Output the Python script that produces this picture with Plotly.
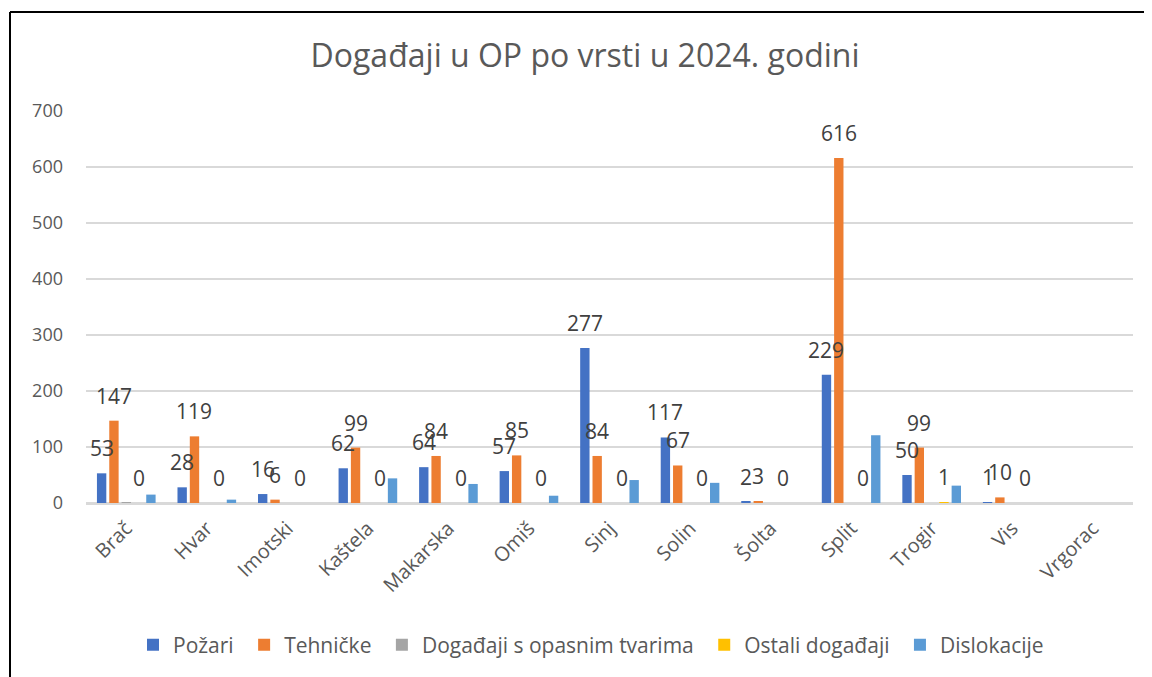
import plotly.graph_objects as go

categories = ["Brač", "Hvar", "Imotski", "Kaštela", "Makarska", "Omiš", "Sinj",
              "Solin", "Šolta", "Split", "Trogir", "Vis", "Vrgorac"]

series_names = ["Požari", "Tehničke", "Događaji s opasnim tvarima",
                "Ostali događaji", "Dislokacije"]

pozari = [53, 28, 16, 62, 64, 57, 277, 117, 2, 229, 50, 1, None]
tehnicke = [147, 119, 6, 99, 84, 85, 84, 67, 3, 616, 99, 10, None]
opasne_tvari = [1, 0, 0, 0, 0, 0, 0, 0, 0, 0, 0, 0, None]
ostali = [0, 0, 0, 0, 0, 0, 0, 0, 0, 0, 1, 0, None]
dislokacije = [15, 6, 0, 44, 34, 13, 41, 36, 0, 121, 31, 0, None]

y_ticks = [0, 100, 200, 300, 400, 500, 600, 700]

series_values = [pozari, tehnicke, opasne_tvari, ostali, dislokacije]
colors = ["#4472C4", "#ED7D31", "#A5A5A5", "#FFC000", "#5B9BD5"]
labelled = [True, True, False, True, False]

# the page body adds an 8px margin; lay the figure out in window pixels
OFF = 8
WIN_W, WIN_H = 1152, 677
W, H = WIN_W - OFF, WIN_H - OFF
PL, PR, PT, PB = 86, 1133, 111, 503          # plot area in window pixels
ML, MR, MT, MB = PL - OFF, WIN_W - PR, PT - OFF, WIN_H - PB
BARGAP = 0.235
BARGROUPGAP = 0.24
FONT = "Open Sans"
PAD = "\u00a0"

fig = go.Figure()
for idx, (name, vals, col) in enumerate(zip(series_names, series_values, colors)):
    fig.add_trace(go.Bar(name=name + (PAD if idx < len(series_names) - 1 else ""),
                         x=categories, y=vals, marker_color=col,
                         marker_line_width=0))

# data labels (outside end) placed through the axis scales
n = len(series_values)
slot = (1 - BARGAP) / n
annotations = []
for i, (vals, lab) in enumerate(zip(series_values, labelled)):
    if not lab:
        continue
    for j, v in enumerate(vals):
        if v is None:
            continue
        annotations.append(dict(
            x=j + (i - (n - 1) / 2) * slot, y=v, xref="x", yref="y",
            text=str(v), showarrow=False, yanchor="middle", yshift=25,
            font=dict(family=FONT, size=21, color="#404040")))

plot_w = PR - PL
plot_h = PB - PT
bx0 = (10 - PL) / plot_w
bx1 = (WIN_W + 40 - PL) / plot_w
by_top = (PB - 12) / plot_h

fig.update_layout(
    width=W, height=H,
    margin=dict(l=ML, r=MR, t=MT, b=MB),
    paper_bgcolor="white", plot_bgcolor="white",
    barmode="group", bargap=BARGAP, bargroupgap=BARGROUPGAP,
    title=dict(text="Događaji u OP po vrsti u 2024. godini",
               x=(585 - OFF) / W, xref="container", xanchor="center",
               y=1 - (56 - OFF) / H, yref="container", yanchor="middle",
               font=dict(family=FONT, size=32, color="#595959")),
    font=dict(family=FONT, color="#595959"),
    showlegend=True,
    legend=dict(orientation="h", x=(591 - PL) / plot_w, xanchor="center",
                y=(PB - 645) / plot_h, yanchor="middle",
                font=dict(family=FONT, size=21, color="#595959"),
                itemwidth=30, traceorder="normal"),
    annotations=annotations,
    shapes=[
        dict(type="line", xref="paper", yref="paper",
             x0=bx0, x1=bx0, y0=by_top, y1=-1.0,
             line=dict(color="black", width=2), layer="above"),
        dict(type="line", xref="paper", yref="paper",
             x0=bx0, x1=bx1, y0=by_top, y1=by_top,
             line=dict(color="black", width=2), layer="above"),
    ],
)

fig.update_xaxes(
    type="category", tickangle=-45, showgrid=False,
    showline=True, linecolor="#D9D9D9", linewidth=1.5,
    tickfont=dict(family=FONT, size=20, color="#595959"),
    ticks="", automargin=False, ticklabelstandoff=4,
)
fig.update_yaxes(
    range=[0, 700], tickvals=y_ticks, ticktext=[str(t) for t in y_ticks],
    showgrid=True, gridcolor="#D9D9D9", gridwidth=1.5,
    zeroline=True, zerolinecolor="#D9D9D9", zerolinewidth=1.5,
    showline=False, ticks="", ticklabelstandoff=22,
    tickfont=dict(family=FONT, size=18, color="#595959"),
    automargin=False,
)

fig.write_html("out.html")
